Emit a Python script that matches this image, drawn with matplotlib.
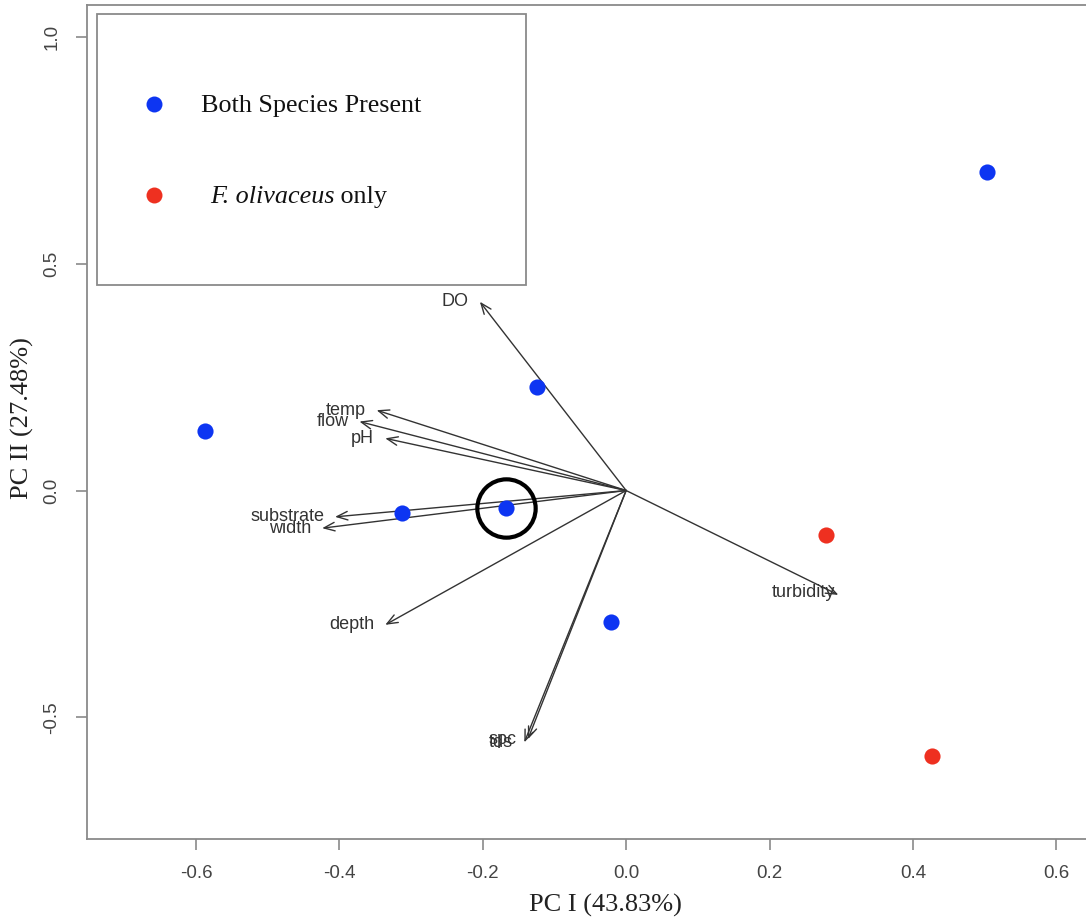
import numpy as np
import matplotlib
matplotlib.use("Agg")
import matplotlib.pyplot as plt
from matplotlib.patches import Rectangle
from matplotlib.text import Annotation

# site scores on the first two principal components
both_pc1 = [0.503, -0.124, -0.587, -0.312, -0.167, -0.021]
both_pc2 = [0.702, 0.228, 0.131, -0.050, -0.039, -0.290]
oliv_pc1 = [0.279, 0.427]
oliv_pc2 = [-0.098, -0.585]

# highlighted site
circ_pc1 = -0.167
circ_pc2 = -0.039

# variable loadings (arrows)
var_names = ['DO', 'temp', 'flow', 'pH', 'substrate', 'width', 'depth',
             'turbidity', 'tds', 'spc']
load_pc1 = [-0.204, -0.348, -0.372, -0.336, -0.406, -0.424, -0.336, 0.296, -0.142, -0.137]
load_pc2 = [0.416, 0.177, 0.152, 0.115, -0.058, -0.083, -0.296, -0.230, -0.555, -0.548]

xticks = [-0.6, -0.4, -0.2, 0.0, 0.2, 0.4, 0.6]
yticks = [-0.5, 0.0, 0.5, 1.0]

blue = '#0d35f2'
red = '#ee3020'
grey = '#8a8a8a'
sans = 'Liberation Sans'
serif = 'Liberation Serif'

W, H = 1086, 919
fig = plt.figure(figsize=(W / 100, H / 100), dpi=100)
ax = fig.add_axes([87 / W, (H - 839) / H, (1090 - 87) / W, (839 - 5) / H])

ax.set_xlim(-0.752, 0.647)
ax.set_ylim(-0.768, 1.070)

# arrows for the environmental variables
for name, x, y in zip(var_names, load_pc1, load_pc2):
    ax.annotate('', xy=(x, y), xytext=(0, 0),
                arrowprops=dict(arrowstyle='->,head_length=0.55,head_width=0.22',
                                color='#333333', lw=1.0, shrinkA=0, shrinkB=0,
                                mutation_scale=14))
    if name == 'turbidity':
        off = (-3, 2)
    else:
        off = (-11, 0)
    ax.annotate(name, xy=(x, y), xytext=off, textcoords='offset pixels',
                ha='right', va='center', fontsize=13, family=sans, color='#333333')

ax.scatter(both_pc1, both_pc2, s=135, color=blue, zorder=3, linewidths=0)
ax.scatter(oliv_pc1, oliv_pc2, s=135, color=red, zorder=3, linewidths=0)
ax.plot([circ_pc1], [circ_pc2], marker='o', markersize=42, mfc='none',
        mec='black', mew=3.0, zorder=4)

ax.set_xticks(xticks)
ax.set_yticks(yticks)
ax.set_xticklabels([f'{v:.1f}' for v in xticks], family=sans, fontsize=13.5, color='#444444')
ax.set_yticklabels([f'{v:.1f}' for v in yticks], family=sans, fontsize=13.5, color='#444444',
                   rotation=90, va='center')
ax.tick_params(axis='both', length=8, width=1.2, color=grey, direction='out')
ax.tick_params(axis='x', pad=11)
ax.tick_params(axis='y', pad=11)
for sp in ax.spines.values():
    sp.set_color(grey)
    sp.set_linewidth(1.3)

fig.text(605 / W, 1 - 905 / H, 'PC I (43.83%)', family=serif, fontsize=19,
         ha='center', va='center', color='#222222')
fig.text(22 / W, 1 - 418 / H, 'PC II (27.48%)', family=serif, fontsize=19,
         ha='center', va='center', rotation=90, color='#222222')

# legend box
lx0, ly0, lx1, ly1 = 97, 14, 526, 285
fig.patches.append(Rectangle((lx0 / W, 1 - ly1 / H), (lx1 - lx0) / W, (ly1 - ly0) / H,
                             transform=fig.transFigure, fill=True, facecolor='white',
                             edgecolor=grey, linewidth=1.3, zorder=5))
fig.lines.append(plt.Line2D([154 / W], [1 - 104 / H], marker='o', markersize=11.5,
                            color=blue, mew=0, transform=fig.transFigure, zorder=6))
fig.lines.append(plt.Line2D([154 / W], [1 - 195 / H], marker='o', markersize=11.5,
                            color=red, mew=0, transform=fig.transFigure, zorder=6))
fig.text(201 / W, 1 - 106 / H, 'Both Species Present', family=serif, fontsize=18.8,
         ha='left', va='center', color='#111111', zorder=6)
t_it = fig.text(210 / W, 1 - 197 / H, 'F. olivaceus', family=serif, fontsize=18.8,
                style='italic', ha='left', va='center', color='#111111', zorder=6)
# " only" follows the italic species name
fig.add_artist(Annotation(' only', xy=(1, 0), xycoords=t_it, va='bottom', ha='left',
                          family=serif, fontsize=18.8, color='#111111', zorder=6))

fig.savefig('out.png', dpi=100)
